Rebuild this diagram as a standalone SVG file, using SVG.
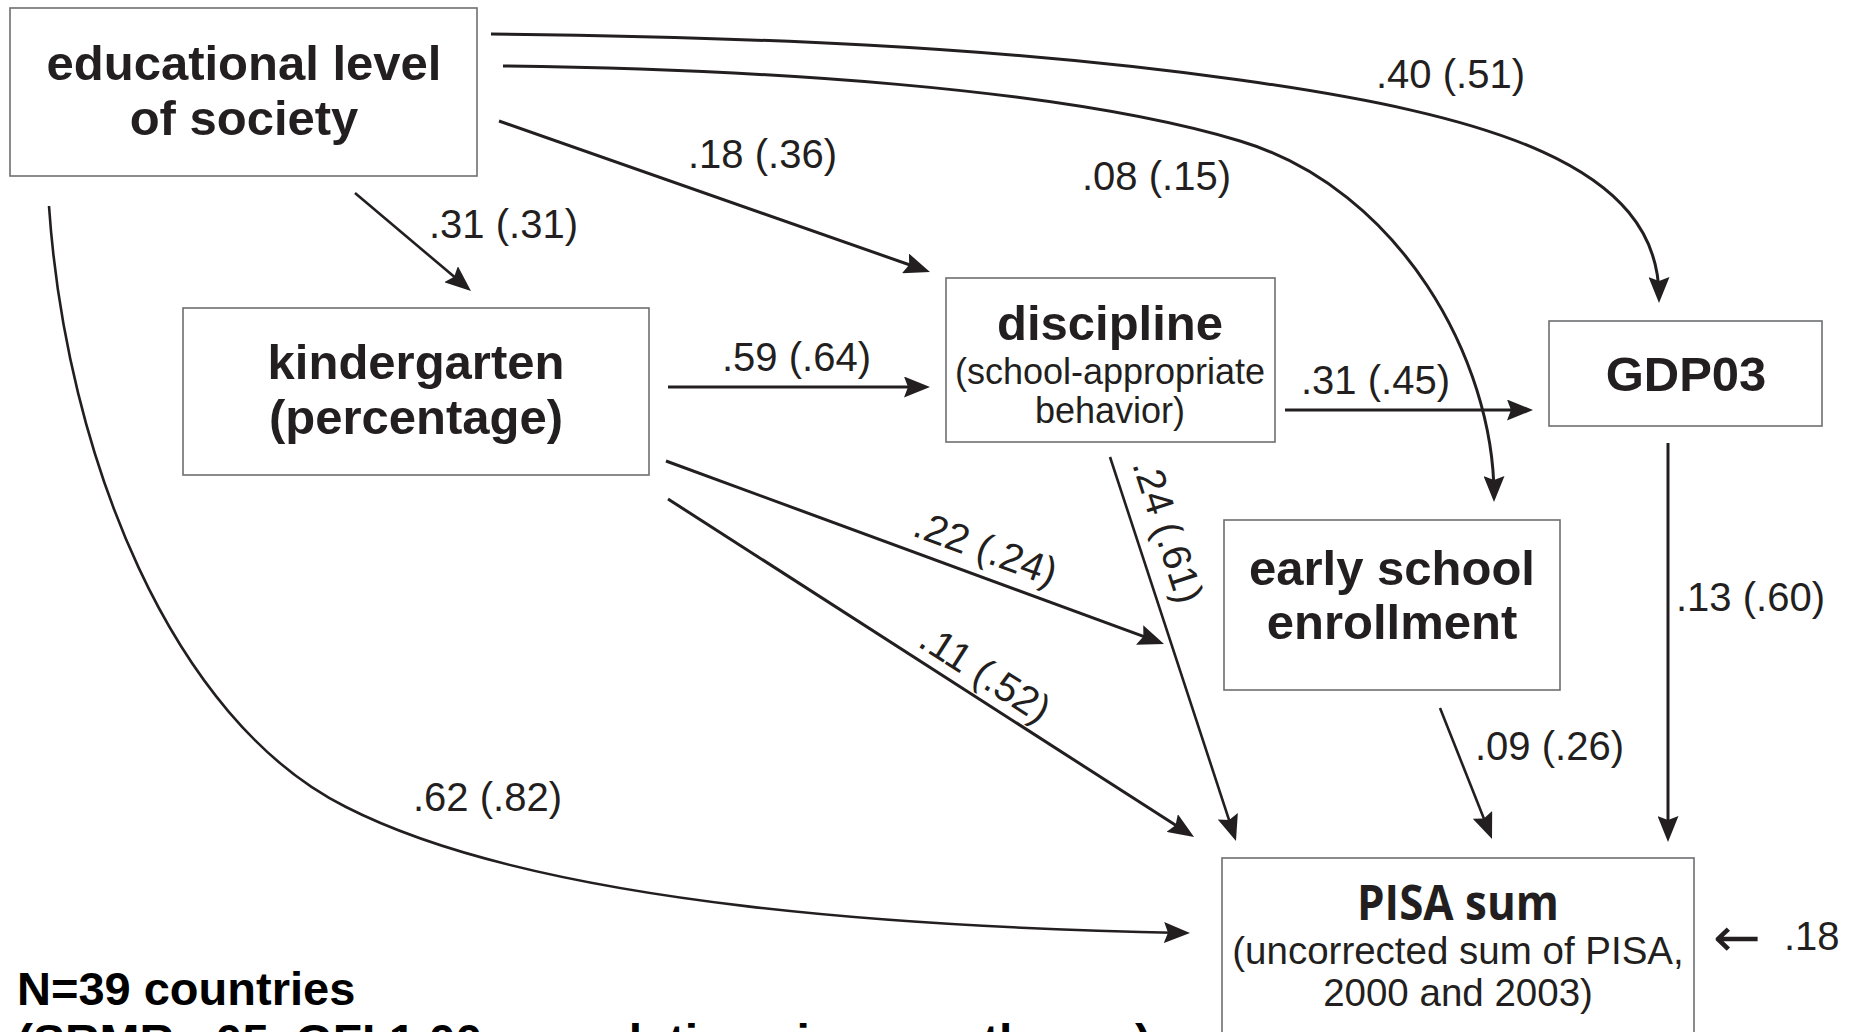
<svg xmlns="http://www.w3.org/2000/svg" width="1860" height="1032" viewBox="0 0 1860 1032">
<style>
.box{fill:#fff;stroke:#6d6e71;stroke-width:1.6}
.edge{fill:none;stroke:#231f20;stroke-width:3;marker-end:url(#ah)}
.thin{stroke-width:2.6}
.title{font-family:"Liberation Sans",Arial,sans-serif;font-weight:bold;font-size:49px;fill:#231f20;text-anchor:middle}
.sub{font-family:"Liberation Sans",Arial,sans-serif;font-size:36px;fill:#231f20;text-anchor:middle}
.sub2{font-family:"Liberation Sans",Arial,sans-serif;font-size:38.5px;fill:#231f20;text-anchor:middle}
.lbl{font-family:"Liberation Sans",Arial,sans-serif;font-size:40px;fill:#231f20}
.note{font-family:"Liberation Sans",Arial,sans-serif;font-weight:bold;font-size:47px;fill:#000}
</style>
<defs>
<marker id="ah" markerUnits="userSpaceOnUse" markerWidth="26" markerHeight="21" refX="20" refY="10.5" orient="auto" viewBox="0 0 26 21">
<path d="M0,0 L26,10.5 L0,21 L4,10.5 Z" fill="#231f20"/>
</marker>
</defs>
<rect width="1860" height="1032" fill="#fff"/>

<g id="connectors">
<g id="e-edu-gdp">
<path class="edge" d="M491,34 C741,37 990,45 1240,80 C1490,115 1659,165 1659,297"/>
<text class="lbl" x="1376" y="88">.40 (.51)</text>
</g>
<g id="e-edu-early">
<path class="edge" d="M503,66 C753,69 1060,87 1240,141 C1400,189 1494,360 1494,496"/>
<text class="lbl" x="1082" y="190">.08 (.15)</text>
</g>
<g id="e-edu-disc">
<path class="edge" d="M499,121 L924.3,270"/>
<text class="lbl" x="688" y="168">.18 (.36)</text>
</g>
<g id="e-edu-kinder">
<path class="edge thin" d="M355,193 L466.4,287.1"/>
<text class="lbl" x="429" y="238">.31 (.31)</text>
</g>
<g id="e-edu-pisa">
<path class="edge thin" d="M49,206 C66,456 172,720 346,807 C546,909 938,928 1184,933"/>
<text class="lbl" x="413" y="811">.62 (.82)</text>
</g>
<g id="e-kinder-disc">
<path class="edge" d="M668,387 L924,387"/>
<text class="lbl" x="722" y="371">.59 (.64)</text>
</g>
<g id="e-kinder-early">
<path class="edge" d="M666,461 L1158.4,641.9"/>
<text class="lbl" text-anchor="middle" transform="translate(981,561) rotate(20.2)">.22 (.24)</text>
</g>
<g id="e-kinder-pisa">
<path class="edge" d="M668,499 L1189,833.8"/>
<text class="lbl" text-anchor="middle" transform="translate(978,685) rotate(32.7)">.11 (.52)</text>
</g>
<g id="e-disc-pisa">
<path class="edge thin" d="M1110,457 L1234.1,835.3"/>
<text class="lbl" text-anchor="middle" transform="translate(1155,535) rotate(72)">.24 (.61)</text>
</g>
<g id="e-disc-gdp">
<path class="edge" d="M1285,410 L1527,410"/>
<text class="lbl" x="1301" y="394">.31 (.45)</text>
</g>
<g id="e-early-pisa">
<path class="edge thin" d="M1440,708 L1489.8,833.4"/>
<text class="lbl" x="1475" y="760">.09 (.26)</text>
</g>
<g id="e-gdp-pisa">
<path class="edge" d="M1668,443 L1668,836"/>
<text class="lbl" x="1676" y="611">.13 (.60)</text>
</g>
<g id="e-resid">
<text x="1713" y="956" font-family="'DejaVu Sans',sans-serif" font-size="54" fill="#231f20" textLength="48" lengthAdjust="spacingAndGlyphs">←</text>
<text class="lbl" x="1784" y="950">.18</text>
</g>
</g>

<g id="node-edu">
<rect class="box" x="10" y="8" width="467" height="168"/>
<text class="title" x="244" y="80">educational level</text>
<text class="title" x="244" y="135">of society</text>
</g>
<g id="node-kinder">
<rect class="box" x="183" y="308" width="466" height="167"/>
<text class="title" x="416" y="379">kindergarten</text>
<text class="title" x="416" y="434">(percentage)</text>
</g>
<g id="node-disc">
<rect class="box" x="946" y="278" width="329" height="164"/>
<text class="title" x="1110" y="340">discipline</text>
<text class="sub" x="1110" y="384">(school-appropriate</text>
<text class="sub" x="1110" y="423">behavior)</text>
</g>
<g id="node-gdp">
<rect class="box" x="1549" y="321" width="273" height="105"/>
<text class="title" x="1686" y="391">GDP03</text>
</g>
<g id="node-early">
<rect class="box" x="1224" y="520" width="336" height="170"/>
<text class="title" x="1392" y="585">early school</text>
<text class="title" x="1392" y="639">enrollment</text>
</g>
<g id="node-pisa">
<rect class="box" x="1222" y="858" width="472" height="200"/>
<text x="1458" y="920" text-anchor="middle" font-family="'Open Sans','Noto Sans',sans-serif" font-weight="bold" font-size="49" fill="#231f20" textLength="202" lengthAdjust="spacingAndGlyphs">PISA sum</text>
<text class="sub2" x="1458" y="964">(uncorrected sum of PISA,</text>
<text class="sub2" x="1458" y="1006">2000 and 2003)</text>
</g>

<g id="note">
<text class="note" x="17" y="1005">N=39 countries</text>
<text class="note" x="17" y="1057" textLength="1134" lengthAdjust="spacingAndGlyphs">(SRMR=.05, GFI 1.00, correlations in parentheses)</text>
</g>
</svg>
